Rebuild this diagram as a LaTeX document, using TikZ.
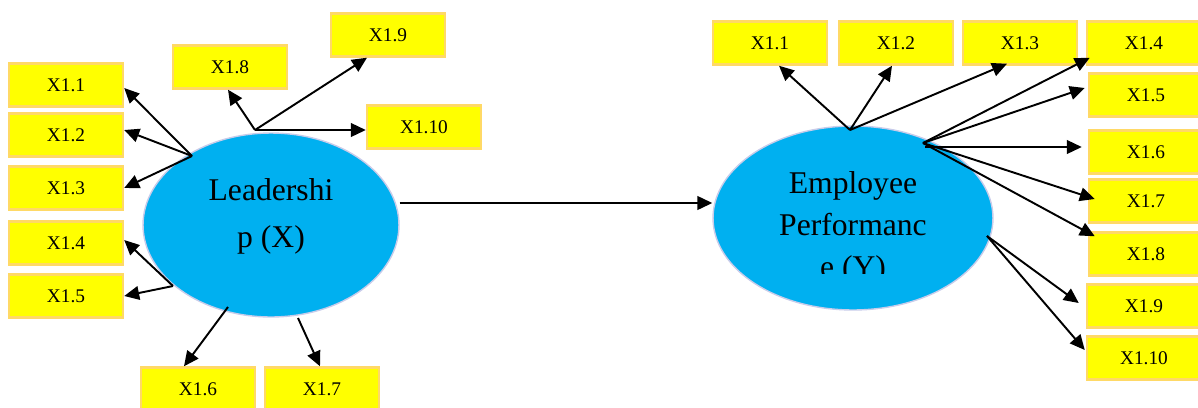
\documentclass[tikz,border=0pt]{standalone}
\usepackage{fontspec}
\setmainfont{Liberation Serif}
\usetikzlibrary{arrows.meta,calc,shapes.geometric}

\definecolor{boxfill}{HTML}{FFFF00}
\definecolor{boxline}{HTML}{FFD966}
\definecolor{latfill}{HTML}{00B0F0}
\definecolor{latline}{HTML}{C8CCEA}

\tikzset{
  indbox/.style={rectangle, fill=boxfill, draw=boxline, line width=1.4pt,
    minimum width=2.28cm, minimum height=0.86cm, inner sep=0pt,
    font=\fontsize{11}{13}\selectfont},
  latent/.style={ellipse, fill=latfill, draw=latline, line width=0.8pt, inner sep=0pt},
  lattext/.style={anchor=base, inner sep=0pt, font=\fontsize{18}{20}\selectfont},
  arr/.style={-{Triangle[length=8.5pt,width=7.8pt]}, line width=1.1pt, black},
}

\begin{document}
\begin{tikzpicture}[x=0.02cm,y=-0.02cm]
\useasboundingbox (0,0) rectangle (1198,407);

% latent variables
\node[latent, minimum width=5.12cm, minimum height=3.68cm] (lx) at (271,225) {};
\node[lattext] (lxa) at (271,200) {Leadershi};
\node[lattext] (lxb) at (271,247) {p (X)};

\node[latent, minimum width=5.6cm, minimum height=3.68cm] (ye) at (853,218) {};
\node[lattext] (yea) at (853,193) {Employee};
\node[lattext] (yeb) at (853,235) {Performanc};
\begin{scope}
  \clip (700,250) rectangle (1000,273);
  \node[lattext] (yec) at (853,277) {e (Y)};
\end{scope}

% indicators of Leadership
\node[indbox] (l1)  at (66,85)   {X1.1};
\node[indbox] (l2)  at (66,135)  {X1.2};
\node[indbox] (l3)  at (66,188)  {X1.3};
\node[indbox] (l4)  at (66,243)  {X1.4};
\node[indbox] (l5)  at (66,296)  {X1.5};
\node[indbox] (l6)  at (198,389) {X1.6};
\node[indbox] (l7)  at (322,389) {X1.7};
\node[indbox] (l8)  at (230,67)  {X1.8};
\node[indbox] (l9)  at (388,35)  {X1.9};
\node[indbox] (l10) at (424,127) {X1.10};

% indicators of Employee Performance
\node[indbox] (y1)  at (770,43)   {X1.1};
\node[indbox] (y2)  at (896,43)   {X1.2};
\node[indbox] (y3)  at (1020,43)  {X1.3};
\node[indbox] (y4)  at (1144,43)  {X1.4};
\node[indbox] (y5)  at (1146,95)  {X1.5};
\node[indbox] (y6)  at (1146,152) {X1.6};
\node[indbox] (y7)  at (1146,201) {X1.7};
\node[indbox] (y8)  at (1146,254) {X1.8};
\node[indbox] (y9)  at (1144,306) {X1.9};
\node[indbox] (y10) at (1144,358) {X1.10};

% arrow origins
\coordinate (la) at (192,156);
\coordinate (lb) at (173,286);
\coordinate (lc) at (228,307);
\coordinate (ld) at (298,318);
\coordinate (le) at (255,130);
\coordinate (ya) at (850,130);
\coordinate (yb) at (923,143);
\coordinate (yb6) at (925,147);
\coordinate (yc) at (987,236);
\coordinate (mainy) at (0,203);

% structural path
\draw[arr] (lx.east |- mainy) -- (ye.west |- mainy);

% loadings of Leadership
\draw[arr] (la) -- ($(l1.east)+(0,3)$);
\draw[arr] (la) -- ($(l2.east)+(0,-5)$);
\draw[arr] (la) -- (l3.east);
\draw[arr] (lb) -- ($(l4.east)+(0,-3)$);
\draw[arr] (lb) -- (l5.east);
\draw[arr] (lc) -- ($(l6.north)+(-14,0)$);
\draw[arr] (ld) -- ($(l7.north)+(-2,0)$);
\draw[arr] (le) -- ($(l8.south)+(-2,0)$);
\draw[arr] (le) -- ($(l9.south)+(-21,0)$);
\draw[arr] (le) -- (l10.west |- le);

% loadings of Employee Performance
\draw[arr] (ya) -- ($(y1.south)+(9,0)$);
\draw[arr] (ya) -- ($(y2.south)+(-4,0)$);
\draw[arr] (ya) -- ($(y3.south)+(-13,-2)$);
\draw[arr] (yb) -- ($(y4.south west)+(4,-8)$);
\draw[arr] (yb) -- ($(y5.west)+(-3,-7)$);
\draw[arr] (yb6) -- ($(y6.west)+(-6,-5)$);
\draw[arr] (yb) -- ($(y7.west)+(7,-2)$);
\draw[arr] (yb) -- ($(y8.north west)+(7,5)$);
\draw[arr] (yc) -- ($(y9.west)+(-7,-3)$);
\draw[arr] (yc) -- ($(y10.west)+(-1,-8)$);
\end{tikzpicture}
\end{document}
